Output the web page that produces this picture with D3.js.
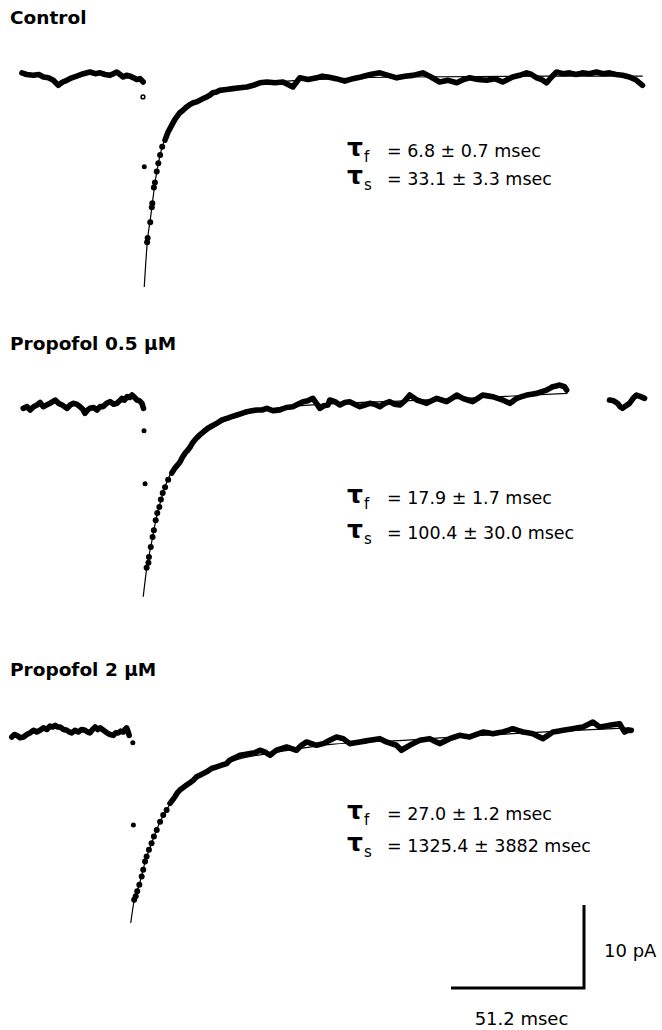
<!DOCTYPE html>
<html>
<head>
<meta charset="utf-8">
<script src="https://cdn.jsdelivr.net/npm/d3@7"></script>
<style>
  body { margin: 0; background: #fff; }
  svg { display: block; }
  text { font-family: "DejaVu Sans", sans-serif; fill: #000; }
</style>
</head>
<body>
<svg width="662" height="1030"></svg>
<script>
// time in ms (0 = onset of the decay), current in pA relative to baseline
const conditions = ["Control", "Propofol 0.5 \u03BCM", "Propofol 2 \u03BCM"]
const tauF = ["6.8 \u00B1 0.7", "17.9 \u00B1 1.7", "27.0 \u00B1 1.2"]
const tauS = ["33.1 \u00B1 3.3", "100.4 \u00B1 30.0", "1325.4 \u00B1 3882"]

const controlPre = [[-47.0,0.5],[-45.2,0.3],[-42.6,0.2],[-40.5,0.3],[-38.7,0.0],[-36.8,-0.1],[-34.9,-0.4],[-33.0,-1.0],[-31.3,-0.6],[-29.7,-0.4],[-27.8,-0.1],[-25.9,0.1],[-23.3,0.4],[-20.8,0.6],[-18.8,0.4],[-16.9,0.5],[-15.0,0.3],[-13.1,0.2],[-11.8,0.4],[-10.5,0.6],[-9.2,0.3],[-8.0,0.0],[-6.7,0.2],[-5.4,0.1],[-4.0,-0.1],[-2.8,-0.3],[-1.5,-0.2],[-0.3,-0.6]]
const controlArtifact = [[-0.4,-2.4],[0.1,-10.8]]
const controlFast = [[1.2,-19.9],[1.4,-19.4],[2.4,-17.5],[3.0,-15.7],[3.2,-15.2],[3.8,-13.3],[4.2,-12.7],[4.9,-11.4],[5.5,-10.4],[6.2,-9.4],[7.0,-8.4]]
const controlSlow = [[8.1,-7.6],[9.3,-6.6],[10.7,-5.8],[11.9,-5.1],[13.8,-4.3],[15.0,-4.0],[16.4,-3.6],[17.7,-3.3],[19.0,-3.1],[20.2,-3.0],[21.5,-2.8],[22.8,-2.6],[24.1,-2.4],[25.3,-2.2],[26.5,-1.9],[27.9,-1.8],[29.2,-1.6],[31.8,-1.5],[34.2,-1.4],[36.9,-1.3],[39.6,-1.2],[42.1,-1.0],[44.6,-0.7],[47.3,-0.6],[50.4,-0.7],[53.5,-0.6],[55.4,-0.9],[57.3,-1.2],[60.0,-0.1],[63.2,-0.3],[66.5,-0.1],[68.6,0.1],[70.8,0.0],[74.0,-0.2],[77.3,-0.5],[80.4,-0.2],[83.5,0.0],[87.1,0.3],[90.8,0.5],[94.0,0.2],[97.3,-0.1],[100.4,0.1],[103.5,0.2],[107.3,0.5],[110.5,0.0],[113.8,-0.6],[117.1,-0.4],[120.4,-0.7],[123.0,-0.3],[125.4,-0.1],[128.6,-0.3],[131.9,-0.4],[135.0,-0.2],[138.1,-0.6],[141.9,0.0],[144.6,0.2],[147.3,0.5],[149.2,0.3],[151.2,-0.1],[153.1,-0.3],[155.0,-0.7],[156.9,0.0],[158.8,0.6],[161.3,0.4],[163.8,0.5],[166.3,0.3],[168.8,0.5],[171.5,0.4],[174.2,0.6],[176.7,0.4],[179.2,0.5],[181.7,0.3],[184.2,0.2],[186.9,0.0],[189.6,-0.4],[191.9,-1.0]]
const controlFit = [[0.1,-25.3],[1.3,-19.8],[2.5,-17.0],[3.5,-14.5],[4.5,-12.2],[5.5,-10.5],[6.5,-9.0],[8,-7.5],[10,-6.1],[12,-5.0],[15,-4.0],[20,-3.0],[25,-2.3],[30,-1.8],[40,-1.1],[55,-0.5],[75,-0.2],[100,0],[150,0.1],[192,0.1]]

const p05Pre = [[-46.5,-0.4],[-45.0,-0.2],[-43.8,-0.6],[-42.5,-0.2],[-41.2,0.0],[-40.0,0.3],[-38.8,-0.2],[-37.5,0.0],[-36.2,0.2],[-34.2,0.6],[-32.9,0.2],[-31.5,0.0],[-29.6,-0.4],[-28.4,0.0],[-27.3,0.2],[-25.9,0.1],[-24.6,-0.2],[-23.6,-0.5],[-22.7,-1.0],[-21.7,-0.6],[-20.8,-0.4],[-19.4,-0.3],[-18.1,-0.6],[-16.9,-0.2],[-15.8,-0.2],[-14.4,0.2],[-13.1,0.4],[-11.7,0.1],[-10.4,0.2],[-9.4,0.5],[-8.5,0.8],[-7.5,0.6],[-6.5,1.0],[-5.5,0.9],[-4.6,1.2],[-3.6,0.9],[-2.7,0.6],[-1.7,0.5],[-0.8,0.2],[-0.2,-0.4]]
const p05Artifact = [[0.0,-3.1],[0.4,-9.5]]
const p05Fast = [[1.0,-19.6],[1.7,-19.0],[1.9,-18.3],[2.6,-17.1],[3.3,-15.9],[3.8,-15.1],[4.5,-13.9],[5.1,-13.0],[5.9,-12.3],[6.5,-11.4],[7.2,-10.6],[8.1,-9.9],[9.3,-9.0]]
const p05Slow = [[10.7,-8.2],[11.9,-7.6],[13.8,-6.9],[14.8,-6.3],[15.8,-5.8],[16.7,-5.5],[17.7,-5.1],[18.6,-4.6],[19.6,-4.2],[20.5,-3.9],[21.5,-3.6],[23.0,-3.2],[24.6,-2.8],[26.3,-2.5],[28.1,-2.2],[30.0,-1.8],[31.9,-1.6],[33.8,-1.4],[35.8,-1.2],[37.7,-1.0],[39.6,-0.8],[41.5,-0.7],[43.5,-0.6],[45.4,-0.6],[47.3,-0.4],[49.8,-0.7],[52.3,-0.6],[54.8,-0.3],[57.3,-0.2],[59.2,0.1],[61.2,0.4],[63.1,0.5],[65.0,0.8],[66.4,0.2],[67.7,-0.4],[69.2,-0.1],[70.8,0.0],[71.5,0.6],[73.5,0.4],[75.4,0.0],[77.3,0.3],[79.2,0.4],[81.1,0.1],[83.1,-0.2],[85.0,0.0],[86.9,0.2],[88.8,0.1],[90.8,-0.2],[92.7,0.2],[94.6,0.4],[96.5,0.1],[98.5,0.0],[100.4,0.5],[102.3,1.2],[103.7,0.9],[105.0,0.6],[106.9,0.4],[108.8,0.2],[110.7,0.5],[112.7,0.8],[114.6,0.6],[116.5,0.4],[118.5,0.8],[120.4,1.2],[122.7,0.8],[124.6,0.6],[126.5,0.4],[128.5,0.8],[130.4,1.2],[132.3,1.1],[134.2,1.0],[136.2,0.8],[138.1,0.6],[139.5,0.4],[140.8,0.2],[142.2,0.5],[143.5,0.8],[145.4,1.0],[147.3,1.2],[149.2,1.3],[151.2,1.4],[153.1,1.6],[155.0,1.8],[156.2,2.0],[157.3,2.2],[158.7,2.3],[160.0,2.4],[161.9,2.2],[162.7,1.8]]
const p05Late = [[179.2,0.6],[180.8,0.5],[182.3,0.2],[183.3,-0.2],[184.2,-0.4],[185.5,-0.1],[186.9,0.2],[188.3,0.8],[189.6,1.2],[191.2,1.0],[192.7,0.8]]
const p05Fit = [[-0.3,-23.1],[1.0,-19.8],[2.6,-17.1],[4.5,-14.0],[6.5,-11.5],[9,-9.1],[12,-7.4],[16,-5.7],[20,-4.3],[25,-3.0],[30,-2.1],[40,-1.0],[50,-0.4],[70,0.1],[100,0.5],[130,0.9],[163,1.4]]

const p2Pre = [[-50.9,-0.6],[-49.9,-0.3],[-49.0,-0.4],[-47.7,-0.7],[-46.4,-0.6],[-45.1,-0.3],[-43.8,-0.1],[-42.5,0.2],[-41.3,0.0],[-40.0,0.2],[-38.7,0.5],[-37.4,0.3],[-36.2,0.7],[-35.2,0.6],[-34.2,0.8],[-33.2,0.6],[-32.3,0.6],[-31.0,0.3],[-29.7,0.2],[-28.7,0.0],[-27.8,-0.1],[-26.6,0.2],[-25.3,0.0],[-24.0,0.3],[-22.7,0.2],[-21.7,0.0],[-20.8,-0.1],[-19.8,0.3],[-18.8,0.6],[-17.8,0.3],[-16.9,0.5],[-15.6,0.2],[-14.3,-0.1],[-13.1,-0.3],[-11.8,-0.4],[-10.9,-0.1],[-9.9,-0.1],[-9.0,0.1],[-8.0,0.0],[-7.3,0.3],[-6.7,0.5],[-6.2,0.1],[-5.7,-0.4]]
const p2Artifact = [[-4.3,-1.3],[-4.1,-11.2]]
const p2Fast = [[-3.8,-20.2],[-3.2,-19.8],[-2.6,-19.2],[-1.8,-18.4],[-0.9,-17.4],[-0.3,-16.6],[0.4,-15.6],[1.0,-15.0],[1.9,-14.2],[2.9,-13.4],[3.8,-12.6],[4.9,-11.8],[6.2,-10.8],[7.4,-10.0],[8.7,-9.4]]
const p2Slow = [[10.0,-8.6],[11.0,-8.2],[11.9,-7.8],[12.9,-7.3],[13.8,-7.0],[15.1,-6.7],[16.4,-6.4],[17.7,-6.1],[19.0,-5.8],[20.2,-5.4],[21.5,-5.2],[22.8,-5.0],[24.1,-4.8],[26.0,-4.4],[28.0,-4.2],[29.9,-4.0],[31.8,-3.8],[33.0,-3.4],[34.3,-3.2],[35.6,-3.0],[36.9,-2.8],[38.8,-2.7],[40.8,-2.6],[42.7,-2.5],[44.6,-2.2],[46.5,-2.4],[48.5,-2.8],[49.7,-2.5],[51.0,-2.2],[52.9,-2.0],[54.9,-1.8],[56.8,-2.0],[58.7,-2.2],[60.6,-1.6],[62.6,-1.2],[64.5,-1.4],[66.4,-1.6],[69.0,-1.4],[71.5,-1.0],[74.1,-0.6],[76.7,-0.8],[79.2,-1.4],[81.2,-1.3],[83.1,-1.2],[85.0,-1.1],[86.9,-1.0],[88.8,-0.9],[90.8,-0.8],[93.3,-1.2],[95.2,-1.4],[97.2,-1.6],[99.1,-2.2],[100.7,-1.9],[102.3,-1.6],[104.2,-1.3],[106.2,-1.0],[108.1,-0.9],[110.0,-0.8],[111.9,-1.1],[113.8,-1.4],[115.8,-1.1],[117.7,-0.8],[119.6,-0.6],[121.5,-0.4],[123.5,-0.5],[125.4,-0.6],[128.0,-0.3],[130.5,0.0],[132.4,-0.1],[134.3,-0.2],[136.2,-0.1],[138.2,0.0],[140.1,0.2],[142.0,0.4],[143.9,0.2],[145.9,0.0],[147.8,-0.1],[149.7,-0.2],[151.6,-0.5],[153.6,-0.8],[155.5,-0.4],[157.4,0.0],[159.3,0.1],[161.3,0.2],[163.2,0.3],[165.1,0.4],[167.0,0.5],[169.0,0.6],[170.9,0.9],[172.8,1.2],[174.1,0.9],[175.4,0.6],[177.3,0.7],[179.2,0.8],[181.1,0.9],[183.1,1.0],[184.0,0.5],[185.0,0.0],[186.3,0.2],[187.6,0.2]]
const p2Fit = [[-5.1,-23.0],[-3.8,-20.3],[-1.8,-18.4],[0.4,-15.7],[2.9,-13.4],[6.2,-10.8],[10,-8.7],[14,-7.1],[20,-5.7],[28,-4.3],[36,-3.3],[50,-2.5],[72,-1.5],[100,-1.0],[130,-0.4],[160,0.1],[187,0.5]]

const svg = d3.select("svg")

// scale bar sizes: 51.2 ms and 10 pA
const x = d3.scaleLinear().domain([0, 51.2]).range([144, 277])
const pxPerPA = 8.3

const panels = [
  { y0: 77,  labelY: 24,  tauY: [157, 185], openFirst: true,
    pre: [controlPre], artifact: controlArtifact, fast: controlFast, slow: [controlSlow], fit: controlFit },
  { y0: 405, labelY: 350, tauY: [504, 539], openFirst: false,
    pre: [p05Pre], artifact: p05Artifact, fast: p05Fast, slow: [p05Slow, p05Late], fit: p05Fit },
  { y0: 732, labelY: 676, tauY: [820, 852], openFirst: false,
    pre: [p2Pre], artifact: p2Artifact, fast: p2Fast, slow: [p2Slow], fit: p2Fit }
]

panels.forEach(function(p, i) {
  const y = d3.scaleLinear().domain([0, -10]).range([p.y0, p.y0 + 10 * pxPerPA])
  const line = d3.line().x(d => x(d[0])).y(d => y(d[1]))
  const g = svg.append("g")

  g.append("text")
    .attr("x", 10).attr("y", p.labelY)
    .style("font-size", "18.5px").style("font-weight", "bold")
    .text(conditions[i])

  // fitted curve underneath the data
  g.append("path")
    .attr("d", line.curve(d3.curveMonotoneX)(p.fit))
    .attr("fill", "none").attr("stroke", "#000").attr("stroke-width", 1.2)
  line.curve(d3.curveLinear)

  // noisy baseline and plateau: dense dots drawn as a thick trace
  g.selectAll(".trace")
      .data(p.pre.concat(p.slow))
    .enter().append("path")
      .attr("d", line)
      .attr("fill", "none").attr("stroke", "#000")
      .attr("stroke-width", 5.6)
      .attr("stroke-linejoin", "round").attr("stroke-linecap", "round")

  g.selectAll(".dot")
      .data(p.fast)
    .enter().append("circle")
      .attr("cx", d => x(d[0])).attr("cy", d => y(d[1]))
      .attr("r", 3)

  g.selectAll(".artifact")
      .data(p.artifact)
    .enter().append("circle")
      .attr("cx", d => x(d[0])).attr("cy", d => y(d[1]))
      .attr("r", (d, j) => (p.openFirst && j === 0) ? 1.9 : 2.5)
      .attr("fill", (d, j) => (p.openFirst && j === 0) ? "#fff" : "#000")
      .attr("stroke", "#000").attr("stroke-width", (d, j) => (p.openFirst && j === 0) ? 1.5 : 0)

  // time constants
  const rows = [["f", tauF[i]], ["s", tauS[i]]]
  rows.forEach(function(r, k) {
    const ty = p.tauY[k]
    g.append("text").attr("x", 347).attr("y", ty - 1)
      .style("font-size", "25px").style("font-weight", "bold").text("\u03C4")
    g.append("text").attr("x", 364).attr("y", ty + 5)
      .style("font-size", "15px").text(r[0])
    g.append("text").attr("x", 387).attr("y", ty)
      .style("font-size", "17.5px").text("= " + r[1] + " msec")
  })
})

// scale bars
const barRight = 584, barBottom = 988
const barW = x(51.2) - x(0), barH = 10 * pxPerPA
svg.append("path")
  .attr("d", d3.line()([[barRight - barW, barBottom], [barRight, barBottom], [barRight, barBottom - barH]]))
  .attr("fill", "none").attr("stroke", "#000").attr("stroke-width", 3)
  .attr("stroke-linejoin", "miter")
svg.append("text").attr("x", 604).attr("y", 957)
  .style("font-size", "18px").text("10 pA")
svg.append("text").attr("x", barRight - barW / 2 + 4).attr("y", 1025)
  .attr("text-anchor", "middle")
  .style("font-size", "18px").text("51.2 msec")
</script>
</body>
</html>
